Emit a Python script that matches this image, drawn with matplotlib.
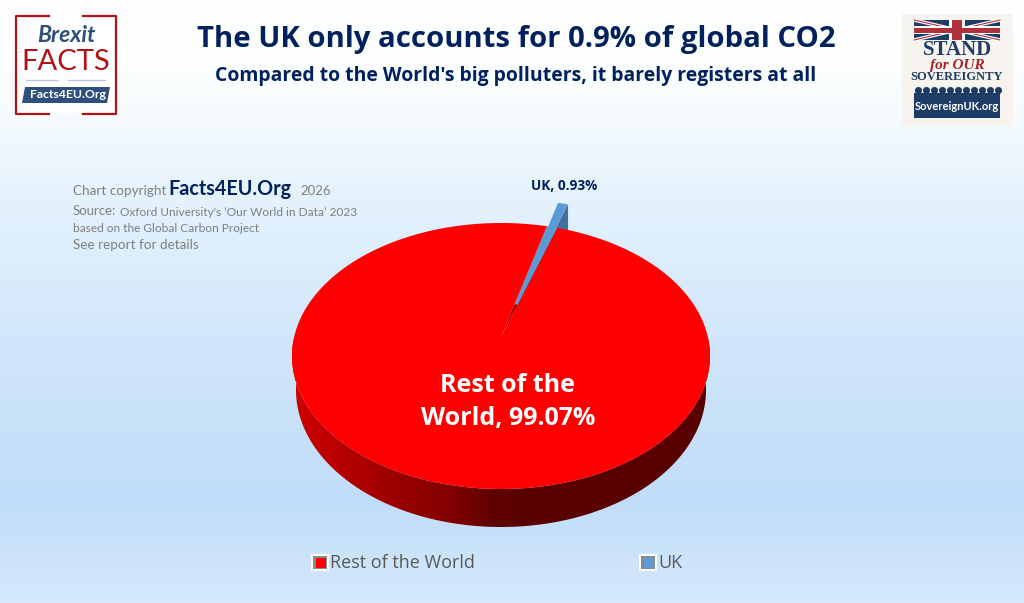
import numpy as np
import matplotlib
matplotlib.use("Agg")
import matplotlib.pyplot as plt
from matplotlib.patches import Rectangle, Polygon

plt.rcParams['font.family'] = ['Lato', 'DejaVu Sans']

categories = ["Rest of the World", "UK"]
shares = [99.07, 0.93]
slice_labels = ["Rest of the\nWorld, 99.07%", "UK, 0.93%"]

NAVY = "#002060"
GREY = "#7f7f7f"
HEAD_FONT = ['Open Sans', 'DejaVu Sans']

# pie geometry in pixels
cx, cy, rx, ry = 501, 356, 209, 133
base_cy, base_rx, base_ry = 390, 205, 137
tilt = 0.143
depth = 30
first_angle = 18.0
explode = 0.25


def project(r, ang, dx=0.0, dy=0.0):
    # disc position (angle clockwise from north) to screen pixels, with perspective
    a = np.radians(ang)
    u = r * np.sin(a) + dx
    v = -r * np.cos(a) + dy
    w = 1 - tilt * v
    x = cx + rx * np.sqrt(1 - tilt ** 2) * u / w
    y = cy + ry * (v - tilt) / w
    return np.column_stack([np.atleast_1d(x), np.atleast_1d(y)])


fig = plt.figure(figsize=(10.24, 6.03), dpi=100)
ax = fig.add_axes([0, 0, 1, 1])
ax.set_xlim(0, 1024)
ax.set_ylim(603, 0)
ax.axis("off")

# background
stops_y = [0, 90, 200, 350, 500, 603]
stops_r = [255, 250, 228, 208, 192, 214]
stops_g = [255, 253, 242, 230, 221, 233]
stops_b = [255, 254, 253, 250, 249, 253]
yy = np.arange(603)
grad = np.stack([np.interp(yy, stops_y, stops_r),
                 np.interp(yy, stops_y, stops_g),
                 np.interp(yy, stops_y, stops_b)], axis=1)[:, None, :] / 255
ax.imshow(grad, extent=[0, 1024, 603, 0], aspect="auto", zorder=0)

# slice angles from the data
total = sum(shares)
sweep = [s / total * 360 for s in shares]
red_start = first_angle
red_end = first_angle + sweep[0]
uk_start = red_end
uk_end = red_end + sweep[1]
mid = np.radians((uk_start + uk_end) / 2)
ex_u, ex_v = explode * np.sin(mid), -explode * np.cos(mid)

# uk slice: wall then top
uk_arc = np.linspace(uk_start, uk_end, 8)
uk_top = np.vstack([project(0, 0, ex_u, ex_v), project(1, uk_arc, ex_u, ex_v)])
edge = np.vstack([project(0, 0, ex_u, ex_v), project(1, uk_end, ex_u, ex_v)])
uk_wall = np.vstack([edge, edge[::-1] + [0, depth]])
ax.add_patch(Polygon(uk_wall, closed=True, fc="#41719c", ec="none", zorder=2))

# notch left by the uk slice: blue towards the rim, dark red at the apex
notch = np.vstack([project(0.25, uk_arc)[0], project(1, uk_arc), project(0.25, uk_arc)[-1]])
ax.add_patch(Polygon(notch, closed=True, fc="#5b9bd5", ec="none", zorder=2.5))
notch_in = np.vstack([project(0, 0), project(0.27, uk_arc)])
ax.add_patch(Polygon(notch_in, closed=True, fc="#a00000", ec="none", zorder=2.6))
ax.add_patch(Polygon(uk_top, closed=True, fc="#5b9bd5", ec="none", zorder=3))

# red front wall, horizontal gradient clipped to the wall outline
wall_ang = np.linspace(90, 270, 181)
rim = project(1, wall_ang)
rim_x = (rim[:, 0] - cx) / rx
rim_y = (rim[:, 1] - cy) / ry
base = np.column_stack([cx + base_rx * rim_x, base_cy + base_ry * rim_y])
wall = Polygon(np.vstack([rim, base[::-1]]), closed=True, fc="none", ec="none", zorder=4)
ax.add_patch(wall)
xx = np.arange(285, 720)
shade = np.interp(xx, [292, 318, 385, 452, 492, 520, 710], [205, 196, 160, 128, 96, 90, 88])
shade_img = np.stack([shade / 255, np.zeros_like(shade), np.zeros_like(shade)], axis=1)[None, :, :]
im = ax.imshow(shade_img, extent=[285, 720, 540, 340], aspect="auto", zorder=4)
im.set_clip_path(wall)
ax.set_xlim(0, 1024)
ax.set_ylim(603, 0)

# red top
red_arc = np.linspace(red_start, red_end, 361)
red_top = np.vstack([project(0, 0), project(1, red_arc)])
ax.add_patch(Polygon(red_top, closed=True, fc="#ff0000", ec="none", zorder=5))

ax.text(508, 402, slice_labels[0], color="white", fontsize=18, fontweight="bold", family=HEAD_FONT,
        ha="center", va="center", linespacing=1.45, zorder=6)
ax.text(564, 186, slice_labels[1], color=NAVY, fontsize=9.8, fontweight="bold", family=HEAD_FONT,
        ha="center", va="center", zorder=6)

# titles
ax.text(516, 39, "The UK only accounts for 0.9% of global CO2", color=NAVY, family=HEAD_FONT,
        fontsize=21.1, fontweight="bold", ha="center", va="center", zorder=6)
ax.text(516, 76, "Compared to the World's big polluters, it barely registers at all", color=NAVY,
        family=HEAD_FONT, fontsize=13.95, fontweight="bold", ha="center", va="center", zorder=6)

# copyright block
ax.text(73, 191, "Chart copyright", color=GREY, fontsize=9.7, va="center", zorder=6)
ax.text(168, 189, "Facts4EU.Org", color=NAVY, fontsize=14.2, fontweight="bold", va="center", zorder=6)
ax.text(300, 191, "2026", color=GREY, fontsize=9.5, va="center", zorder=6)
ax.text(73, 211, "Source:", color=GREY, fontsize=9.5, va="center", zorder=6)
ax.text(120, 212, "Oxford University's \u2018Our World in Data\u2019 2023", color=GREY, fontsize=8.6,
        va="center", zorder=6)
ax.text(73, 228, "based on the Global Carbon Project", color=GREY, fontsize=8.6, va="center", zorder=6)
ax.text(73, 245, "See report for details", color=GREY, fontsize=9.7, va="center", zorder=6)

# legend
legend_x = [320, 648]
legend_cols = ["#ff0000", "#5b9bd5"]
for lx, c, name in zip(legend_x, legend_cols, categories):
    ax.add_patch(Rectangle((lx - 9, 554), 18, 17, fc="white", ec="none", zorder=6))
    ax.add_patch(Rectangle((lx - 7, 556), 14, 13, fc="#8a8a8a", ec="none", zorder=6))
    ax.add_patch(Rectangle((lx - 4, 558), 10, 10, fc=c, ec="none", zorder=7))
    ax.text(lx + 10, 563, name, color="#595959", fontsize=13, family=HEAD_FONT, va="center", zorder=6)

# left logo
LOGO_RED = "#b01217"
LOGO_BLUE = "#2f4f7f"
ax.add_patch(Rectangle((17, 17), 98, 96, fc="white", ec="none", zorder=5))
ax.plot([49, 16, 16, 49], [16, 16, 114, 114], color=LOGO_RED, lw=1.6, zorder=6)
ax.plot([83, 116, 116, 83], [16, 16, 114, 114], color=LOGO_RED, lw=1.6, zorder=6)
ax.text(66, 35, "Brexit", color=LOGO_BLUE, fontsize=16.5, fontweight="bold", style="italic",
        ha="center", va="center", zorder=6)
ax.text(66, 62, "FACTS", color=LOGO_RED, fontsize=21, ha="center", va="center", zorder=6)
ax.plot([26, 58], [80, 80], color="#b8c8de", lw=1, zorder=6)
ax.plot([68, 105], [80, 80], color="#b8c8de", lw=1, zorder=6)
ax.add_patch(Polygon([[25, 87], [110, 87], [107, 103], [22, 103]], fc=LOGO_BLUE, ec="none", zorder=6))
ax.text(68, 95, "Facts4EU.Org", color="white", fontsize=8.8, fontweight="bold", ha="center",
        va="center", zorder=7)

# right logo
SOV_BLUE = "#1d3c66"
SOV_RED = "#b0313a"
ax.add_patch(Rectangle((902, 14), 111, 112, fc="#f7f3ee", ec="none", zorder=5))
ax.add_patch(Rectangle((914, 20), 86, 20, fc=SOV_BLUE, ec="none", zorder=6))
ax.plot([914, 1000], [20, 40], color="white", lw=2.5, zorder=6)
ax.plot([914, 1000], [40, 20], color="white", lw=2.5, zorder=6)
ax.plot([914, 1000], [20, 40], color=SOV_RED, lw=0.8, zorder=6)
ax.plot([914, 1000], [40, 20], color=SOV_RED, lw=0.8, zorder=6)
ax.add_patch(Rectangle((949, 20), 16, 20, fc="white", ec="none", zorder=6))
ax.add_patch(Rectangle((914, 26), 86, 8, fc="white", ec="none", zorder=6))
ax.add_patch(Rectangle((952, 20), 10, 20, fc=SOV_RED, ec="none", zorder=6))
ax.add_patch(Rectangle((914, 28), 86, 5, fc=SOV_RED, ec="none", zorder=6))
ax.text(957, 50, "STAND", color=SOV_BLUE, fontsize=15, fontweight="bold", family="Liberation Serif",
        ha="center", va="center", zorder=7)
ax.text(957, 65, "for OUR", color="#a3212a", fontsize=11, fontweight="bold", style="italic",
        family="Liberation Serif", ha="center", va="center", zorder=7)
ax.text(957, 77, "SOVEREIGNTY", color=SOV_BLUE, fontsize=9, fontweight="bold", family="Liberation Serif",
        ha="center", va="center", zorder=7)
ax.add_patch(Rectangle((914, 93), 86, 25, fc=SOV_BLUE, ec="none", zorder=6))
crowd_x = np.arange(918, 1000, 8)
ax.scatter(crowd_x, np.full(len(crowd_x), 90), s=26, color=SOV_BLUE, linewidths=0, zorder=6)
ax.text(957, 107, "SovereignUK.org", color="white", fontsize=8, fontweight="bold", ha="center",
        va="center", zorder=7)

fig.savefig("out.png", dpi=100)
